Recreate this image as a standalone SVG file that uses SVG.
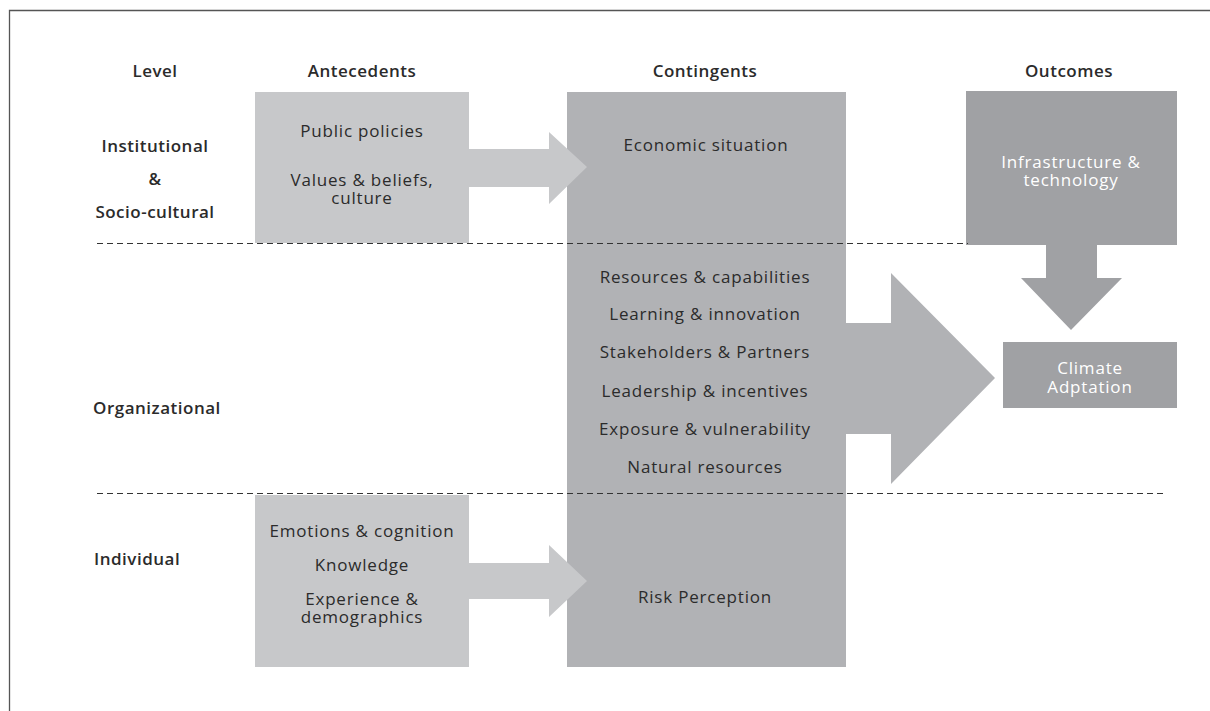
<svg xmlns="http://www.w3.org/2000/svg" width="1210" height="711" viewBox="0 0 1210 711">
  <style>
    .t { font-family: "Open Sans", "Noto Sans", "Liberation Sans", sans-serif; font-size: 17px; letter-spacing: 0.8px; fill: #2b2b2b; text-anchor: middle; }
    .h { font-family: "Open Sans", "Noto Sans", "Liberation Sans", sans-serif; font-size: 17px; letter-spacing: 0.5px; font-weight: 600; fill: #2b2b2b; text-anchor: middle; }
    .lv { font-family: "Open Sans", "Noto Sans", "Liberation Sans", sans-serif; font-size: 17px; letter-spacing: 0.5px; font-weight: 600; fill: #2b2b2b; }
    .w { font-family: "Open Sans", "Noto Sans", "Liberation Sans", sans-serif; font-size: 17px; letter-spacing: 0.8px; fill: #ffffff; text-anchor: middle; }
    .ante { fill: #c7c8ca; }
    .cont { fill: #b1b2b5; }
    .out { fill: #a0a1a4; }
    .dash { stroke: #333333; stroke-width: 1.2; stroke-dasharray: 6 4; fill: none; }
  </style>
  <rect width="1210" height="711" fill="#ffffff"/>
  <!-- frame -->
  <path d="M9.5 711 V10.5 H1210" fill="none" stroke="#555555" stroke-width="1.3"/>

  <!-- column headings -->
  <g id="headings">
    <text class="h" x="155" y="77">Level</text>
    <text class="h" x="362" y="77">Antecedents</text>
    <text class="h" x="705" y="77">Contingents</text>
    <text class="h" x="1069" y="77">Outcomes</text>
  </g>

  <!-- level labels -->
  <g id="levels">
    <text class="h" x="155" y="152">Institutional</text>
    <text class="h" x="155" y="185">&amp;</text>
    <text class="h" x="155" y="218">Socio-cultural</text>
    <text class="lv" x="93" y="414">Organizational</text>
    <text class="lv" x="94" y="565">Individual</text>
  </g>

  <!-- antecedents: institutional -->
  <g id="ante-institutional">
    <rect class="ante" x="255" y="92" width="214" height="151"/>
    <text class="t" x="362" y="137">Public policies</text>
    <text class="t" x="362" y="186">Values &amp; beliefs,<tspan x="362" dy="18">culture</tspan></text>
  </g>

  <!-- antecedents: individual -->
  <g id="ante-individual">
    <rect class="ante" x="255" y="495" width="214" height="172"/>
    <text class="t" x="362" y="537">Emotions &amp; cognition</text>
    <text class="t" x="362" y="571">Knowledge</text>
    <text class="t" x="362" y="605">Experience &amp;<tspan x="362" dy="18">demographics</tspan></text>
  </g>

  <!-- contingents -->
  <g id="contingents">
    <rect class="cont" x="567" y="92" width="279" height="575"/>
    <text class="t" x="706" y="151">Economic situation</text>
    <text class="t" x="705" y="283">Resources &amp; capabilities</text>
    <text class="t" x="705" y="320">Learning &amp; innovation</text>
    <text class="t" x="705" y="358">Stakeholders &amp; Partners</text>
    <text class="t" x="705" y="397">Leadership &amp; incentives</text>
    <text class="t" x="705" y="435">Exposure &amp; vulnerability</text>
    <text class="t" x="705" y="473">Natural resources</text>
    <text class="t" x="705" y="603">Risk Perception</text>
  </g>

  <!-- outcomes -->
  <g id="infrastructure">
    <rect class="out" x="966" y="91" width="211" height="154"/>
    <text class="w" x="1071" y="168">Infrastructure &amp;<tspan x="1071" dy="18">technology</tspan></text>
  </g>
  <g id="climate-adaptation">
    <rect class="out" x="1003" y="342" width="174" height="66"/>
    <text class="w" x="1090" y="374">Climate<tspan x="1090" dy="19">Adptation</tspan></text>
  </g>

  <!-- block arrows, drawn over the boxes they point into -->
  <g id="connectors">
    <polygon class="ante" points="469,149 549,149 549,132 587,167 549,204 549,187 469,187"/>
    <polygon class="ante" points="469,563 549,563 549,545 587,581 549,617 549,599 469,599"/>
    <polygon class="cont" points="845,323 891,323 891,273 995,378 891,484 891,434 845,434"/>
    <polygon class="out" points="1046,244 1097,244 1097,278 1122,278 1071,330 1021,278 1046,278"/>
  </g>

  <!-- level separators -->
  <g id="separators">
    <line class="dash" x1="97" y1="243.5" x2="968" y2="243.5"/>
    <line class="dash" x1="97" y1="493.5" x2="1165" y2="493.5"/>
  </g>
</svg>
